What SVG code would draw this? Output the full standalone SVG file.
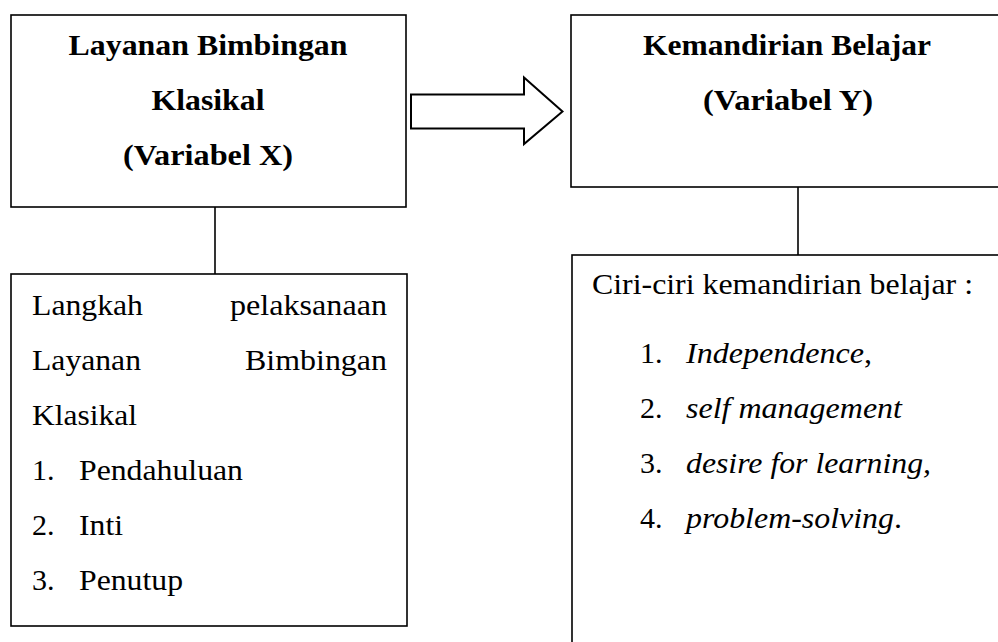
<svg xmlns="http://www.w3.org/2000/svg" width="998" height="642" viewBox="0 0 998 642" font-family="'Liberation Serif', 'DejaVu Serif', serif">
<style>
.box{fill:#fff;stroke:#000;stroke-width:1.6}
.line{stroke:#000;stroke-width:1.6;fill:none}
.arrow{fill:#fff;stroke:#000;stroke-width:2}
.t{font-family:'Liberation Serif','DejaVu Serif',serif;font-size:30px;fill:#000}
.b{font-weight:bold;text-anchor:middle}
.i{font-style:italic}
</style>
<rect width="998" height="642" fill="#fff"/>
<g id="connectors">
<line class="line" x1="215" y1="207" x2="215" y2="274"/>
<line class="line" x1="798" y1="187" x2="798" y2="255"/>
<polygon id="big-arrow" class="arrow" points="411,94.5 524,94.5 524,77.5 562.5,111.5 524,144 524,128.5 411,128.5"/>
</g>
<g id="node-x" class="t">
<rect class="box" x="11" y="15" width="395" height="192"/>
<text class="b" x="208" y="55" textLength="279" lengthAdjust="spacingAndGlyphs">Layanan Bimbingan</text>
<text class="b" x="208" y="110" textLength="113" lengthAdjust="spacingAndGlyphs">Klasikal</text>
<text class="b" x="208" y="165" textLength="170" lengthAdjust="spacingAndGlyphs">(Variabel X)</text>
</g>
<g id="node-x-steps" class="t">
<rect class="box" x="11" y="274" width="396" height="352"/>
<text x="32" y="315" textLength="111" lengthAdjust="spacingAndGlyphs">Langkah</text>
<text x="230" y="315" textLength="157" lengthAdjust="spacingAndGlyphs">pelaksanaan</text>
<text x="32" y="370" textLength="109" lengthAdjust="spacingAndGlyphs">Layanan</text>
<text x="245" y="370" textLength="142" lengthAdjust="spacingAndGlyphs">Bimbingan</text>
<text x="32" y="425" textLength="105" lengthAdjust="spacingAndGlyphs">Klasikal</text>
<text x="32" y="480">1.</text><text x="79" y="480" textLength="164" lengthAdjust="spacingAndGlyphs">Pendahuluan</text>
<text x="32" y="535">2.</text><text x="79" y="535" textLength="44" lengthAdjust="spacingAndGlyphs">Inti</text>
<text x="32" y="590">3.</text><text x="79" y="590" textLength="104" lengthAdjust="spacingAndGlyphs">Penutup</text>
</g>
<g id="node-y" class="t">
<rect class="box" x="571" y="15" width="440" height="172"/>
<text class="b" x="787" y="55" textLength="288" lengthAdjust="spacingAndGlyphs">Kemandirian Belajar</text>
<text class="b" x="788" y="110" textLength="170" lengthAdjust="spacingAndGlyphs">(Variabel Y)</text>
</g>
<g id="node-y-traits" class="t">
<rect class="box" x="572" y="255" width="440" height="400"/>
<text x="592" y="294" textLength="381" lengthAdjust="spacingAndGlyphs">Ciri-ciri kemandirian belajar :</text>
<text x="640" y="363">1.</text><text x="686" y="363" textLength="186" lengthAdjust="spacingAndGlyphs"><tspan class="i">Independence</tspan>,</text>
<text x="640" y="418">2.</text><text class="i" x="686" y="418" textLength="216" lengthAdjust="spacingAndGlyphs">self management</text>
<text x="640" y="473">3.</text><text class="i" x="686" y="473" textLength="245" lengthAdjust="spacingAndGlyphs">desire for learning,</text>
<text x="640" y="528">4.</text><text x="686" y="528" textLength="216" lengthAdjust="spacingAndGlyphs"><tspan class="i">problem-solving</tspan>.</text>
</g>
</svg>
